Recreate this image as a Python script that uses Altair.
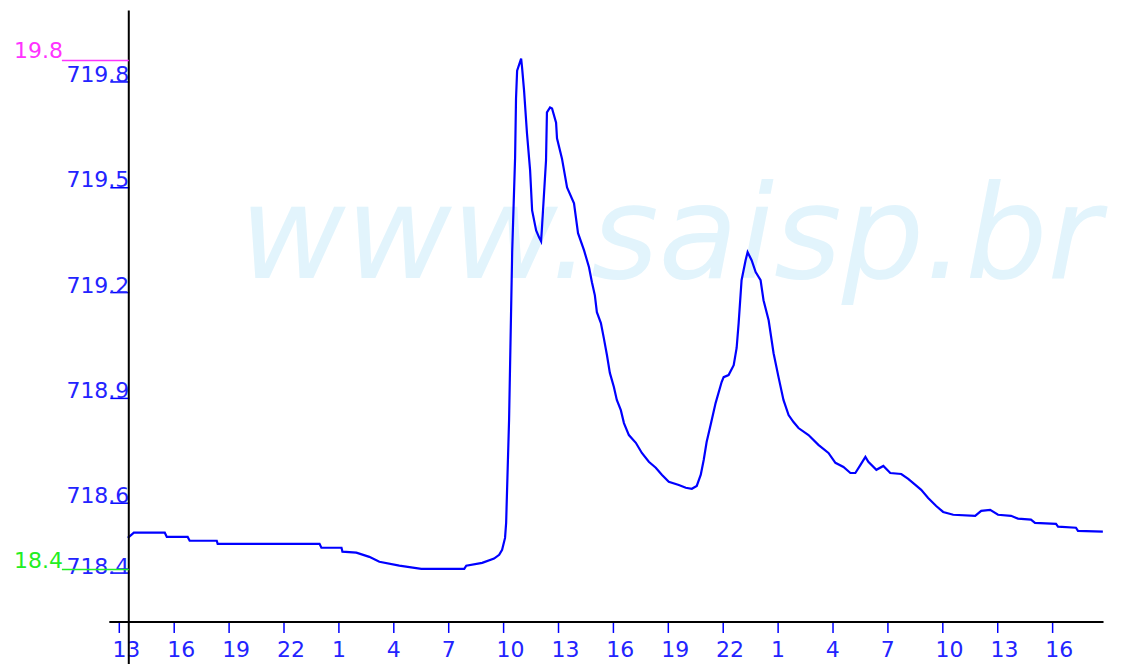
import altair as alt
import pandas as pd

# hours elapsed since 13:00 of the first day, and reservoir level (m)
hours = [0.49, 0.82, 2.51, 2.62, 3.76, 3.87, 5.35, 5.40, 10.97, 11.07, 12.17, 12.22,
         12.98, 13.69, 14.24, 15.33, 16.53, 18.88, 18.99, 19.86, 20.51, 20.79, 20.95,
         21.11, 21.17, 21.33, 21.50, 21.55, 21.66, 21.71, 21.77, 21.99, 22.04, 22.15,
         22.31, 22.48, 22.59, 22.81, 22.97, 23.08, 23.13, 23.35, 23.40, 23.57, 23.68,
         23.90, 23.95, 24.22, 24.50, 24.88, 25.10, 25.43, 25.70, 25.86, 26.02, 26.13,
         26.35, 26.51, 26.68, 26.84, 27.06, 27.22, 27.44, 27.61, 27.88, 28.26, 28.59,
         28.97, 29.35, 29.68, 30.06, 30.61, 30.99, 31.32, 31.59, 31.81, 31.97, 32.13,
         32.35, 32.62, 32.95, 33.06, 33.33, 33.61, 33.77, 33.88, 34.04, 34.26, 34.37,
         34.59, 34.81, 35.08, 35.24, 35.52, 35.79, 36.06, 36.33, 36.61, 36.88, 37.15,
         37.70, 38.24, 38.79, 39.17, 39.61, 39.99, 40.26, 40.54, 40.81, 40.97, 41.41,
         41.79, 42.17, 42.77, 43.15, 43.54, 43.86, 44.24, 44.68, 45.06, 45.61, 46.81,
         47.14, 47.63, 48.06, 48.77, 49.15, 49.86, 50.08, 51.23, 51.34, 52.32, 52.43,
         53.79]
levels = [718.500, 718.515, 718.515, 718.503, 718.503, 718.492, 718.492, 718.483,
          718.483, 718.472, 718.472, 718.461, 718.458, 718.446, 718.432, 718.421,
          718.412, 718.412, 718.421, 718.429, 718.441, 718.452, 718.466, 718.500,
          718.543, 718.836, 719.314, 719.399, 719.584, 719.751, 719.831, 719.865,
          719.840, 719.774, 719.652, 719.547, 719.433, 719.376, 719.356, 719.345,
          719.385, 719.575, 719.712, 719.726, 719.723, 719.683, 719.638, 719.581,
          719.498, 719.453, 719.368, 719.319, 719.271, 719.228, 719.191, 719.143,
          719.112, 719.069, 719.021, 718.970, 718.930, 718.893, 718.864, 718.827,
          718.793, 718.771, 718.742, 718.717, 718.700, 718.680, 718.660, 718.651,
          718.643, 718.640, 718.648, 718.680, 718.722, 718.773, 718.822, 718.884,
          718.944, 718.958, 718.964, 718.992, 719.041, 719.112, 719.234, 719.291,
          719.314, 719.291, 719.257, 719.234, 719.177, 719.120, 719.026, 718.958,
          718.893, 718.850, 718.830, 718.813, 718.793, 718.765, 718.742, 718.714,
          718.702, 718.685, 718.685, 718.708, 718.731, 718.717, 718.694, 718.705,
          718.685, 718.682, 718.668, 718.651, 718.637, 718.614, 718.591, 718.574,
          718.566, 718.563, 718.577, 718.580, 718.566, 718.563, 718.555, 718.552,
          718.543, 718.540, 718.532, 718.529, 718.520, 718.518]

start_hour = 13
tick_hours = list(range(0, 52, 3))
y_ticks = [718.4, 718.6, 718.9, 719.2, 719.5, 719.8]

ref_levels = [719.86, 718.41]
ref_labels = ["19.8", "18.4"]
ref_colors = ["#ff33ff", "#22ee22"]

watermark = ["www.saisp.br"]

df = pd.DataFrame({"t": hours, "level": levels})
df_ref = pd.DataFrame({"level": ref_levels, "label": ref_labels, "color": ref_colors})
df_wm = pd.DataFrame({"text": watermark})

FONT = "DejaVu Sans"
LABEL_BLUE = "#2323ff"
FS = 22

x_scale = alt.Scale(domain=[-0.55, 53.8], nice=False, zero=False)
y_scale = alt.Scale(domain=[718.262, 720.002], nice=False, zero=False)

x_axis = alt.Axis(values=tick_hours, labelExpr=f"(datum.value + {start_hour}) % 24",
                  title=None, grid=False, domainColor="black", domainWidth=2,
                  tickColor="#0000ff", tickSize=11, tickWidth=1.5,
                  labelColor=LABEL_BLUE, labelFont=FONT, labelFontSize=FS,
                  labelAlign="left", labelOffset=-7, labelPadding=7,
                  labelBaseline="top", labelFlush=False, labelOverlap=False)
y_axis = alt.Axis(values=y_ticks, format=".1f", title=None, grid=False, domain=False,
                  offset=-20, tickColor="#0000ff", tickSize=19, tickWidth=1.5,
                  labelColor=LABEL_BLUE, labelFont=FONT, labelFontSize=FS,
                  labelPadding=-19, labelAlign="right", labelBaseline="alphabetic",
                  labelFlush=False, labelOverlap=False)

X = alt.X("t:Q", scale=x_scale, axis=x_axis)
Y = alt.Y("level:Q", scale=y_scale, axis=y_axis)

wm = alt.Chart(df_wm).mark_text(
    align="left", baseline="alphabetic", font=FONT, fontSize=130,
    fontStyle="italic", color="#e2f4fc"
).encode(text="text:N", x=alt.value(131), y=alt.value(268))

line = alt.Chart(df).mark_line(color="#0000ff", strokeWidth=2.2).encode(x=X, y=Y)

yaxis_line = alt.Chart(df_wm).mark_rule(color="black", strokeWidth=2).encode(
    x=alt.value(20), y=alt.value(0), y2=alt.value(660))

ref_rules = alt.Chart(df_ref).mark_rule(strokeWidth=1.5).encode(
    x=alt.value(-47), x2=alt.value(20), y=Y,
    color=alt.Color("color:N", scale=None))

ref_text = alt.Chart(df_ref).mark_text(
    align="right", baseline="alphabetic", font=FONT, fontSize=FS, dy=-2
).encode(x=alt.value(-46), y=Y, text="label:N", color=alt.Color("color:N", scale=None))

chart = alt.layer(wm, line, yaxis_line, ref_rules, ref_text).properties(
    width=996, height=612,
    autosize=alt.AutoSizeParams(type="none"),
    padding={"left": 101, "top": 2, "right": 20, "bottom": 42},
).configure_view(stroke=None)

chart.save("out.html", embed_options={"renderer": "svg", "actions": False})
